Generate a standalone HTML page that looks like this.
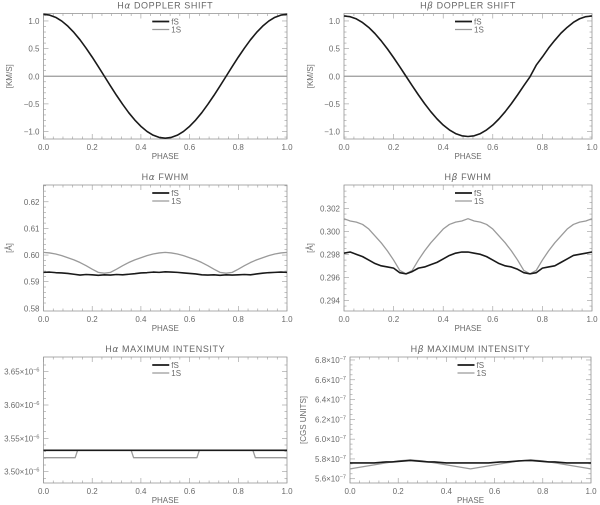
<!DOCTYPE html>
<html><head><meta charset="utf-8">
<style>
html,body{margin:0;padding:0;background:#fff;}
svg{display:block;font-family:"Liberation Sans",sans-serif;}
.tk{font-size:8px;fill:#6a6a6a;}
.tt{font-size:9px;fill:#666;letter-spacing:0.6px;}
</style></head>
<body>
<svg id="fig" width="600" height="505" viewBox="0 0 600 505" xmlns="http://www.w3.org/2000/svg"></svg>
<script>
// ---- data (phase grid 0..1 step 0.025) ----
const phase41 = [0,0.025,0.05,0.075,0.1,0.125,0.15,0.175,0.2,0.225,0.25,0.275,0.3,0.325,0.35,0.375,0.4,0.425,0.45,0.475,0.5,0.525,0.55,0.575,0.6,0.625,0.65,0.675,0.7,0.725,0.75,0.775,0.8,0.825,0.85,0.875,0.9,0.925,0.95,0.975,1];
const haDopplerFS = [1.12,1.106,1.065,0.998,0.906,0.792,0.659,0.508,0.346,0.175,0,-0.175,-0.346,-0.508,-0.659,-0.792,-0.906,-0.998,-1.065,-1.106,-1.12,-1.106,-1.065,-0.998,-0.906,-0.792,-0.659,-0.508,-0.346,-0.175,0,0.175,0.346,0.508,0.659,0.792,0.906,0.998,1.065,1.106,1.12];
const haDoppler1S = [0,0,0,0,0,0,0,0,0,0,0,0,0,0,0,0,0,0,0,0,0,0,0,0,0,0,0,0,0,0,0,0,0,0,0,0,0,0,0,0,0];
const hbDopplerFS = [1.09,1.077,1.037,0.971,0.882,0.771,0.641,0.495,0.337,0.171,0,-0.171,-0.337,-0.495,-0.641,-0.771,-0.882,-0.971,-1.037,-1.077,-1.09,-1.077,-1.037,-0.971,-0.882,-0.771,-0.641,-0.495,-0.337,-0.171,-0.01,0.2,0.35,0.51,0.65,0.78,0.885,0.975,1.04,1.078,1.09];
const hbDoppler1S = [0,0,0,0,0,0,0,0,0,0,0,0,0,0,0,0,0,0,0,0,0,0,0,0,0,0,0,0,0,0,0,0,0,0,0,0,0,0,0,0,0];
const haFwhmFS = [0.5935,0.5936,0.5934,0.5933,0.5931,0.5928,0.5925,0.5927,0.5926,0.5924,0.5926,0.5925,0.5927,0.5926,0.5928,0.5930,0.5933,0.5934,0.5936,0.5935,0.5937,0.5936,0.5935,0.5933,0.5931,0.5929,0.5926,0.5925,0.5926,0.5924,0.5926,0.5925,0.5926,0.5927,0.5926,0.5929,0.5932,0.5934,0.5935,0.5936,0.5935];
const haFwhm1S = [0.6010,0.6008,0.6004,0.5998,0.5990,0.5982,0.5972,0.5960,0.5947,0.5935,0.5932,0.5935,0.5947,0.5960,0.5972,0.5982,0.5990,0.5998,0.6004,0.6008,0.6010,0.6008,0.6004,0.5998,0.5990,0.5982,0.5972,0.5960,0.5947,0.5935,0.5932,0.5935,0.5947,0.5960,0.5972,0.5982,0.5990,0.5998,0.6004,0.6008,0.6010];
const hbFwhmFS = [0.2981,0.2982,0.2980,0.2978,0.2975,0.2972,0.2970,0.2969,0.2968,0.2964,0.2963,0.2965,0.2968,0.2969,0.2971,0.2973,0.2976,0.2979,0.2981,0.2982,0.2982,0.2981,0.2980,0.2978,0.2975,0.2972,0.2970,0.2969,0.2967,0.2964,0.2963,0.2964,0.2968,0.2969,0.2970,0.2973,0.2976,0.2979,0.2980,0.2981,0.2982];
const hbFwhm1S = [0.3011,0.3009,0.3008,0.3006,0.3002,0.2996,0.2990,0.2983,0.2975,0.2966,0.2963,0.2966,0.2975,0.2983,0.2990,0.2996,0.3002,0.3006,0.3008,0.3009,0.3011,0.3009,0.3008,0.3006,0.3002,0.2996,0.2990,0.2983,0.2975,0.2966,0.2963,0.2966,0.2975,0.2983,0.2990,0.2996,0.3002,0.3006,0.3008,0.3009,0.3011];
const haIntPhase = [0,0.13,0.14,0.36,0.37,0.63,0.64,0.86,0.87,1];
const haIntFS = [3.532,3.532,3.532,3.532,3.532,3.532,3.532,3.532,3.532,3.532];
const haInt1S = [3.521,3.521,3.532,3.532,3.521,3.521,3.532,3.532,3.521,3.521];
const hbIntFS = [5.76,5.76,5.76,5.76,5.76,5.765,5.77,5.77,5.775,5.78,5.785,5.78,5.775,5.77,5.77,5.765,5.76,5.76,5.76,5.76,5.76,5.76,5.76,5.76,5.765,5.77,5.77,5.775,5.78,5.783,5.785,5.78,5.775,5.77,5.77,5.765,5.76,5.76,5.76,5.76,5.76];
const hbInt1S = [5.70,5.71,5.72,5.73,5.74,5.75,5.76,5.77,5.78,5.785,5.79,5.785,5.78,5.77,5.76,5.75,5.74,5.73,5.72,5.71,5.70,5.71,5.72,5.73,5.74,5.75,5.76,5.77,5.78,5.785,5.79,5.785,5.78,5.77,5.76,5.75,5.74,5.73,5.72,5.71,5.70];
const xTicks = ["0.0","0.2","0.4","0.6","0.8","1.0"];

const NS = "http://www.w3.org/2000/svg";
const svg = document.getElementById("fig");
function mk(tag, attrs, parent){ const e=document.createElementNS(NS,tag); for(const k in attrs) e.setAttribute(k,attrs[k]); (parent||svg).appendChild(e); return e; }

function panel(o){
  const g = mk("g",{});
  
  
  const L=o.x0,R=o.x1,T=o.y0,B=o.y1;
  const sx=v=>L+(R-L)*v;
  const sy=v=>B-(B-T)*(v-o.ymin)/(o.ymax-o.ymin);
  const frame = mk("rect",{x:L,y:T,width:R-L,height:B-T,fill:"none",stroke:"#888","stroke-width":0.7},g);
  
  
  for(let i=0;i<=25;i++){
    const v=i/25, major=(i%5===0), len=major?5:2.5;
    mk("line",{x1:sx(v),x2:sx(v),y1:B,y2:B-len,stroke:"#999","stroke-width":0.6},g);
    mk("line",{x1:sx(v),x2:sx(v),y1:T,y2:T+len,stroke:"#999","stroke-width":0.6},g);
  }
  xTicks.forEach((t,i)=>{
    const tx=mk("text",{x:sx(i/5),y:B+11,"text-anchor":"middle",class:"tk"},g); tx.textContent=t;
    
    
  });
  const xt=mk("text",{x:(L+R)/2,y:B+20,"text-anchor":"middle",class:"tk","font-size":"7"},g); xt.textContent="PHASE";
  
  
  const nMinor=o.minor;
  for(let v=o.ymin; v<=o.ymax+1e-12; v+=o.ystep/nMinor){
    const k=Math.round((v-o.yt0)/(o.ystep/nMinor));
    const vv=o.yt0+k*o.ystep/nMinor;
    if(vv<o.ymin-1e-12||vv>o.ymax+1e-12) continue;
    const major=(((k%nMinor)+nMinor)%nMinor===0), len=major?5:2.5;
    mk("line",{x1:L,x2:L+len,y1:sy(vv),y2:sy(vv),stroke:"#999","stroke-width":0.6},g);
    mk("line",{x1:R,x2:R-len,y1:sy(vv),y2:sy(vv),stroke:"#999","stroke-width":0.6},g);
  }
  o.yLabels.forEach((t,i)=>{
    const v=o.yVals[i];
    const tx=mk("text",{x:L-4,y:sy(v)+3,"text-anchor":"end",class:"tk"},g);
    if(o.sup){ tx.textContent=t; const s=mk("tspan",{dy:-3,"font-size":"5.5"},tx); s.textContent=o.sup; }
    else tx.textContent=t;
    
    
  });
  if(o.ytitle){
    const yt=mk("text",{x:0,y:0,"text-anchor":"middle",class:"tk","font-size":"8.5",transform:`translate(${o.ytx},${(T+B)/2}) rotate(-90)`},g);
    yt.textContent=o.ytitle;
    
    
  }
  const ti=mk("text",{x:(L+R)/2,y:T-5,"text-anchor":"middle",class:"tt"},g);
  ti.textContent=o.title[0];
  const gs=mk("tspan",{"font-family":"DejaVu Sans, sans-serif","font-style":"italic"},ti); gs.textContent=o.title[1];
  const rest=mk("tspan",{},ti); rest.textContent=o.title[2];
  
  
  const ser=[{ys:o.s1,ph:o.ph,col:"#1a1a1a",w:1.6,n:"fs-line"},{ys:o.s2,ph:o.ph,col:"#9a9a9a",w:1.3,n:"1s-line"}];
  ser.slice().reverse().forEach(s=>{
    const d=s.ys.map((v,i)=>(i?"L":"M")+sx(s.ph[i]).toFixed(2)+","+sy(v).toFixed(2)).join("");
    const p=mk("path",{d:d,fill:"none",stroke:s.col,"stroke-width":s.w,"stroke-linejoin":"round"},g);
    
    
  });
  const lx=(L+R)/2-13, ly=T+8;
  [["fS","#1a1a1a",1.8],["1S","#9a9a9a",1.3]].forEach((e,i)=>{
    const le=mk("g",{},g);
    
    
    mk("line",{x1:lx,x2:lx+17,y1:ly+i*8,y2:ly+i*8,stroke:e[1],"stroke-width":e[2]},le);
    const t=mk("text",{x:lx+19,y:ly+i*8+3,class:"tk","font-size":"7"},le); t.textContent=e[0];
  });
}

panel({name:"ha-doppler-panel",x0:43.5,x1:287,y0:13.5,y1:139,ymin:-1.135,ymax:1.135,yt0:0,ystep:0.5,minor:5,
  yLabels:["1.0","0.5","0.0","\u22120.5","\u22121.0"],yVals:[1,0.5,0,-0.5,-1],ytitle:"[KM/S]",ytx:12,
  title:["H","\u03b1"," DOPPLER SHIFT"],ph:phase41,s1:haDopplerFS,s2:haDoppler1S});
panel({name:"hb-doppler-panel",x0:344,x1:592,y0:13.5,y1:139,ymin:-1.135,ymax:1.135,yt0:0,ystep:0.5,minor:5,
  yLabels:["1.0","0.5","0.0","\u22120.5","\u22121.0"],yVals:[1,0.5,0,-0.5,-1],ytitle:"[KM/S]",ytx:313,
  title:["H","\u03b2"," DOPPLER SHIFT"],ph:phase41,s1:hbDopplerFS,s2:hbDoppler1S});
panel({name:"ha-fwhm-panel",x0:43.5,x1:287,y0:185,y1:311,ymin:0.579,ymax:0.6263,yt0:0.58,ystep:0.01,minor:5,
  yLabels:["0.62","0.61","0.60","0.59","0.58"],yVals:[0.62,0.61,0.60,0.59,0.58],ytitle:"[\u00c5]",ytx:12,
  title:["H","\u03b1"," FWHM"],ph:phase41,s1:haFwhmFS,s2:haFwhm1S});
panel({name:"hb-fwhm-panel",x0:344,x1:592,y0:185,y1:311,ymin:0.29307,ymax:0.30403,yt0:0.294,ystep:0.002,minor:4,
  yLabels:["0.302","0.300","0.298","0.296","0.294"],yVals:[0.302,0.300,0.298,0.296,0.294],ytitle:"[\u00c5]",ytx:313,
  title:["H","\u03b2"," FWHM"],ph:phase41,s1:hbFwhmFS,s2:hbFwhm1S});
panel({name:"ha-intensity-panel",x0:43.5,x1:287,y0:357,y1:483,ymin:3.483,ymax:3.672,yt0:3.50,ystep:0.05,minor:5,
  yLabels:["3.65\u00d710","3.60\u00d710","3.55\u00d710","3.50\u00d710"],yVals:[3.65,3.60,3.55,3.50],sup:"\u22126",ytitle:"",
  title:["H","\u03b1"," MAXIMUM INTENSITY"],ph:haIntPhase,s1:haIntFS,s2:haInt1S});
panel({name:"hb-intensity-panel",x0:350,x1:591,y0:357,y1:483,ymin:5.557,ymax:6.83,yt0:5.6,ystep:0.2,minor:4,
  yLabels:["6.8\u00d710","6.6\u00d710","6.4\u00d710","6.2\u00d710","6.0\u00d710","5.8\u00d710","5.6\u00d710"],yVals:[6.8,6.6,6.4,6.2,6.0,5.8,5.6],sup:"\u22127",ytitle:"[CGS UNITS]",ytx:306,
  title:["H","\u03b2"," MAXIMUM INTENSITY"],ph:phase41,s1:hbIntFS,s2:hbInt1S});
</script>
</body></html>
